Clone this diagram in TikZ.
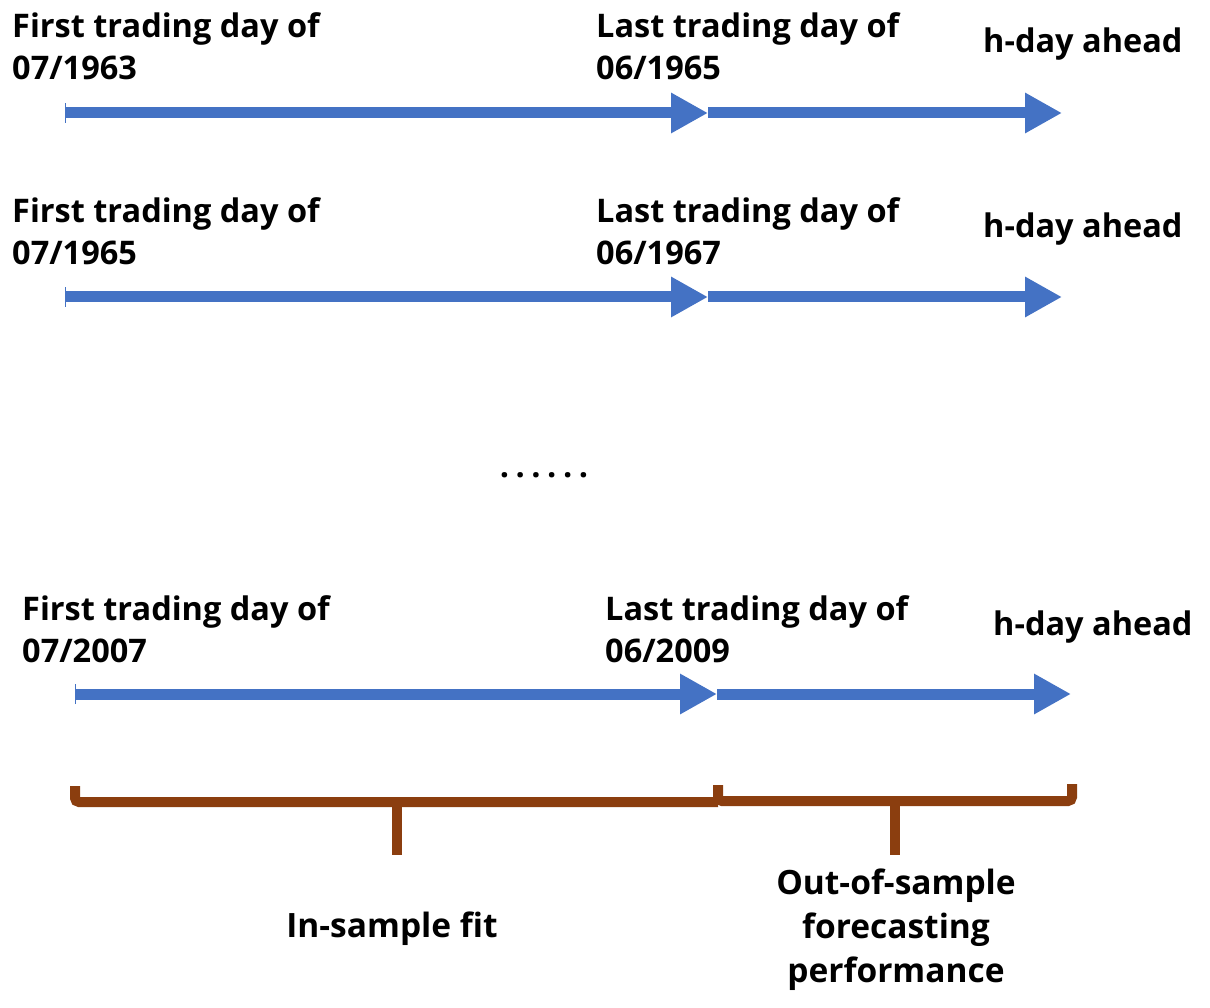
\documentclass[tikz,border=0pt]{standalone}
\usepackage{fontspec}
\setmainfont{Open Sans}
\usetikzlibrary{arrows.meta}
\definecolor{arrowblue}{RGB}{68,114,196}
\definecolor{bracebrown}{RGB}{139,62,15}
\begin{document}
\begin{tikzpicture}[x=1pt,y=-1pt,
  lbl/.style={font=\bfseries\fontsize{32.5}{42}\selectfont, anchor=base west, inner sep=0pt, align=left},
  lblc/.style={font=\bfseries\fontsize{33.5}{44}\selectfont, anchor=base, inner sep=0pt, align=center},
  timearrow/.style={draw=arrowblue, line width=11pt,
     arrows={Bar[width=20pt,line width=1.2pt]-Triangle[length=37pt,width=38pt]}},
  timearrow2/.style={draw=arrowblue, line width=11pt,
     arrows={-Triangle[length=37pt,width=38pt]}},
  bracepath/.style={draw=bracebrown, line width=10pt, rounded corners=4pt}]
\useasboundingbox (0,0) rectangle (1210,1008);

% row 1
\node[lbl] (f1) at (12,80) {First trading day of\\07/1963};
\node[lbl] (l1) at (596,80) {Last trading day of\\06/1965};
\node[lbl] (h1) at (983,53) {h-day ahead};
\coordinate (a1s) at (65,113);
\coordinate (a1m) at (708,113);
\coordinate (a1e) at (1062,113);
\draw[timearrow] (a1s) -- (a1m);
\draw[timearrow2] (a1m) -- (a1e);

% row 2
\node[lbl] (f2) at (12,265) {First trading day of\\07/1965};
\node[lbl] (l2) at (596,265) {Last trading day of\\06/1967};
\node[lbl] (h2) at (983,238) {h-day ahead};
\coordinate (a2s) at (65,297);
\coordinate (a2m) at (708,297);
\coordinate (a2e) at (1062,297);
\draw[timearrow] (a2s) -- (a2m);
\draw[timearrow2] (a2m) -- (a2e);

% dots
\node[font=\bfseries\fontsize{32.5}{34}\selectfont, inner sep=0pt, anchor=base] (dots) at (544,477)
  {.\hspace{6.5pt}.\hspace{6.5pt}.\hspace{6.5pt}.\hspace{6.5pt}.\hspace{6.5pt}.};

% row 3
\node[lbl] (f3) at (22,662) {First trading day of\\07/2007};
\node[lbl] (l3) at (605,662) {Last trading day of\\06/2009};
\node[lbl] (h3) at (993,635) {h-day ahead};
\coordinate (a3s) at (75,694);
\coordinate (a3m) at (717,694);
\coordinate (a3e) at (1071,694);
\draw[timearrow] (a3s) -- (a3m);
\draw[timearrow2] (a3m) -- (a3e);

% braces
\draw[bracepath] (75,786) -- (75,802) -- (718,802);
\draw[bracebrown, line width=10pt] (397,802) -- (397,855);
\draw[bracepath] (718,785) -- (718,801) -- (1072,801) -- (1072,784);
\draw[bracebrown, line width=10pt] (895,801) -- (895,855);

\node[lblc] (ins) at (392,937) {In-sample fit};
\node[lblc] (oos) at (896,982) {Out-of-sample\\forecasting\\performance};
\end{tikzpicture}
\end{document}
